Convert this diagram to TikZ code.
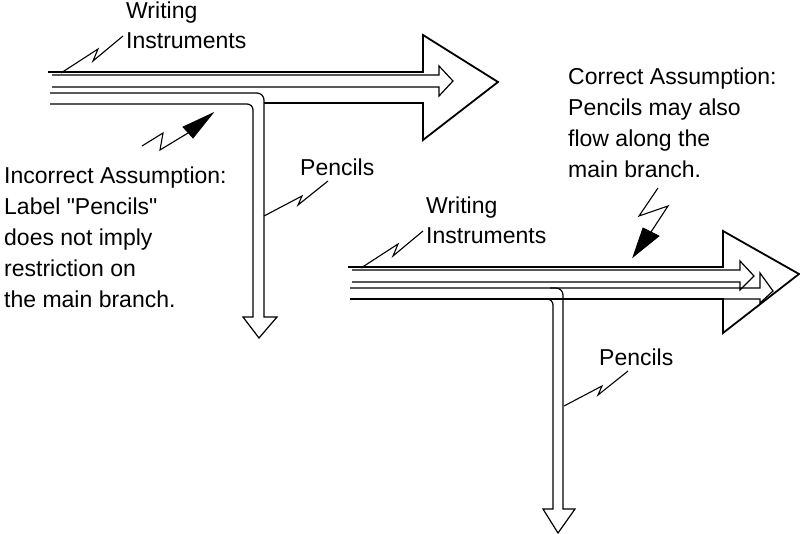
\documentclass[tikz,border=0pt]{standalone}
\usepackage{fontspec}
\setmainfont{Liberation Sans}[Ligatures=TeXOff]
\begin{document}
\begin{tikzpicture}[x=1pt,y=-1pt,
  flow/.style={line width=1.2pt, line join=miter},
  topflow/.style={line width=1.8pt, line join=miter},
  leader/.style={line width=1.1pt, line join=miter},
  lbl/.style={inner sep=0pt, anchor=base west, font=\fontsize{23}{31}\selectfont}]
\useasboundingbox (0,0) rectangle (800,534);

% ---------------- Left diagram ----------------
% big arrow (Writing Instruments)
\draw[topflow] (48,72) -- (423,72) -- (423,35) -- (498,82) -- (423,140) -- (423,103) -- (264,103);
% inner arrow along main branch
\draw[flow] (52,75) -- (439,75) -- (439,66) -- (453,81) -- (439,96) -- (439,87) -- (52,87);
% pencils tube turning down
\draw[flow] (50,104) [rounded corners=6pt] -- (253,104) -- (253,140) [sharp corners] -- (253,317)
  -- (243,317) -- (259,338) -- (277,317) -- (264,317) -- (264,140) [rounded corners=7pt] -- (264,93) -- (50,93);

% labels
\node[lbl] (lwrit) at (126,19) {Writing};
\node[lbl] (linst) at (126,49) {Instruments};
\node[lbl] (lpenc) at (300,176) {Pencils};
\node[lbl] (inc1) at (4,184) {Incorrect Assumption:};
\node[lbl] (inc2) at (4,215) {Label "Pencils"};
\node[lbl] (inc3) at (4,246) {does not imply};
\node[lbl] (inc4) at (4,277) {restriction on};
\node[lbl] (inc5) at (4,308) {the main branch.};

% leaders
\coordinate (lw0) at (61,73);
\coordinate (lw3) at (123,36);
\draw[leader] (lw0) -- (98,49) -- (93,61) -- (lw3);
\coordinate (lp0) at (264,216);
\coordinate (lp3) at (328,181);
\draw[leader] (lp0) -- (302,196) -- (298,205) -- (lp3);
\coordinate (la0) at (142,146);
\coordinate (la3) at (188,133);
\draw[leader] (la0) -- (163,133) -- (160,150) -- (la3);
\filldraw[line width=0.8pt, line join=miter] (183,127) -- (193,138) -- (213,113) -- cycle;

% ---------------- Right diagram ----------------
\draw[topflow] (348,267) -- (723,267) -- (723,231) -- (799,274) -- (723,333) -- (723,299) -- (350,299);
\draw[flow] (352,270) -- (740,270) -- (740,261) -- (754,276) -- (740,290) -- (740,282) -- (352,282);
\draw[flow] (350,288) -- (760,288) -- (760,273) -- (773,291) -- (760,303) -- (760,299) -- (723,299);
% pencils tube
\draw[flow] (550,288) [rounded corners=7pt] -- (563,288) -- (563,330) [sharp corners] -- (563,509)
  -- (575,509) -- (558,533) -- (543,509) -- (553,509) -- (553,330) [rounded corners=6pt] -- (553,299) -- (543,299);

% labels
\node[lbl] (rwrit) at (426,214) {Writing};
\node[lbl] (rinst) at (426,244) {Instruments};
\node[lbl] (rpenc) at (599,365) {Pencils};
\node[lbl] (cor1) at (568,85) {Correct Assumption:};
\node[lbl] (cor2) at (568,116) {Pencils may also};
\node[lbl] (cor3) at (568,147) {flow along the};
\node[lbl] (cor4) at (568,178) {main branch.};

% leaders
\coordinate (rw0) at (361,268);
\coordinate (rw3) at (423,231);
\draw[leader] (rw0) -- (398,244) -- (393,256) -- (rw3);
\coordinate (rp0) at (564,406);
\coordinate (rp3) at (628,371);
\draw[leader] (rp0) -- (602,386) -- (598,395) -- (rp3);
\coordinate (ra0) at (658,188);
\coordinate (ra3) at (651,232);
\draw[leader] (ra0) -- (639,216) -- (668,206) -- (ra3);
\filldraw[line width=0.8pt, line join=miter] (643,228) -- (659,236) -- (633,257) -- cycle;
\end{tikzpicture}
\end{document}
